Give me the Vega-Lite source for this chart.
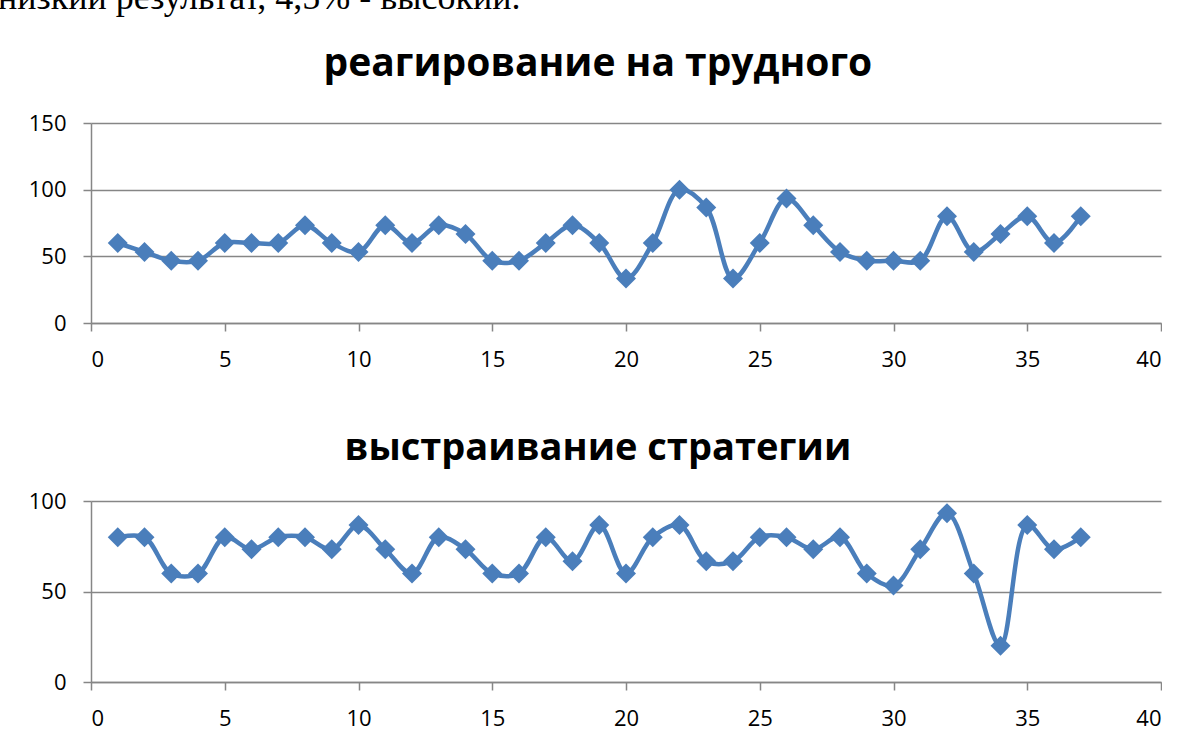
{
  "$schema": "https://vega.github.io/schema/vega-lite/v6.json",
  "background": "white",
  "padding": {"left": -2, "top": -20, "right": 0, "bottom": 10},
  "spacing": 60,
  "title": {
    "text": "низкий результат, 4,5% - высокий.",
    "anchor": "start",
    "frame": "bounds",
    "font": "Liberation Serif",
    "fontSize": 36,
    "fontWeight": "normal",
    "color": "#000000",
    "offset": 28
  },
  "config": {
    "view": {"stroke": null},
    "axis": {
      "labelFont": "Open Sans",
      "labelFontSize": 22,
      "labelColor": "#000000",
      "domainColor": "#868686",
      "tickColor": "#868686",
      "gridColor": "#868686",
      "domainWidth": 1.5,
      "tickWidth": 1.5,
      "gridWidth": 1.3,
      "tickSize": 8,
      "title": null
    },
    "title": {
      "font": "Open Sans",
      "fontSize": 38,
      "fontWeight": "bold",
      "color": "#000000",
      "anchor": "middle",
      "frame": "bounds",
      "offset": 22
    }
  },
  "datasets": {
    "react": [
      {"n": 1, "v": 60}, {"n": 2, "v": 53.3}, {"n": 3, "v": 46.7}, {"n": 4, "v": 46.7},
      {"n": 5, "v": 60}, {"n": 6, "v": 60}, {"n": 7, "v": 60}, {"n": 8, "v": 73.3},
      {"n": 9, "v": 60}, {"n": 10, "v": 53.3}, {"n": 11, "v": 73.3}, {"n": 12, "v": 60},
      {"n": 13, "v": 73.3}, {"n": 14, "v": 66.7}, {"n": 15, "v": 46.7}, {"n": 16, "v": 46.7},
      {"n": 17, "v": 60}, {"n": 18, "v": 73.3}, {"n": 19, "v": 60}, {"n": 20, "v": 33.3},
      {"n": 21, "v": 60}, {"n": 22, "v": 100}, {"n": 23, "v": 86.7}, {"n": 24, "v": 33.3},
      {"n": 25, "v": 60}, {"n": 26, "v": 93.3}, {"n": 27, "v": 73.3}, {"n": 28, "v": 53.3},
      {"n": 29, "v": 46.7}, {"n": 30, "v": 46.7}, {"n": 31, "v": 46.7}, {"n": 32, "v": 80},
      {"n": 33, "v": 53.3}, {"n": 34, "v": 66.7}, {"n": 35, "v": 80}, {"n": 36, "v": 60},
      {"n": 37, "v": 80}
    ],
    "strategy": [
      {"n": 1, "v": 80}, {"n": 2, "v": 80}, {"n": 3, "v": 60}, {"n": 4, "v": 60},
      {"n": 5, "v": 80}, {"n": 6, "v": 73.3}, {"n": 7, "v": 80}, {"n": 8, "v": 80},
      {"n": 9, "v": 73.3}, {"n": 10, "v": 86.7}, {"n": 11, "v": 73.3}, {"n": 12, "v": 60},
      {"n": 13, "v": 80}, {"n": 14, "v": 73.3}, {"n": 15, "v": 60}, {"n": 16, "v": 60},
      {"n": 17, "v": 80}, {"n": 18, "v": 66.7}, {"n": 19, "v": 86.7}, {"n": 20, "v": 60},
      {"n": 21, "v": 80}, {"n": 22, "v": 86.7}, {"n": 23, "v": 66.7}, {"n": 24, "v": 66.7},
      {"n": 25, "v": 80}, {"n": 26, "v": 80}, {"n": 27, "v": 73.3}, {"n": 28, "v": 80},
      {"n": 29, "v": 60}, {"n": 30, "v": 53.3}, {"n": 31, "v": 73.3}, {"n": 32, "v": 93.3},
      {"n": 33, "v": 60}, {"n": 34, "v": 20}, {"n": 35, "v": 86.7}, {"n": 36, "v": 73.3},
      {"n": 37, "v": 80}
    ]
  },
  "vconcat": [
    {
      "title": {"text": "реагирование на трудного", "fontSize": 39, "offset": 28, "dx": 18},
      "width": 1070,
      "height": 200,
      "data": {"name": "react"},
      "mark": {
        "type": "line",
        "interpolate": "catmull-rom",
        "color": "#4A7EBB",
        "strokeWidth": 4.5,
        "point": {"shape": "diamond", "size": 400, "filled": true, "color": "#4A7EBB", "opacity": 1}
      },
      "encoding": {
        "x": {
          "field": "n", "type": "quantitative",
          "scale": {"domain": [0, 40], "nice": false, "zero": false},
          "axis": {"values": [0, 5, 10, 15, 20, 25, 30, 35, 40], "grid": false, "labelPadding": 18, "format": "d"}
        },
        "y": {
          "field": "v", "type": "quantitative",
          "scale": {"domain": [0, 150], "nice": false},
          "axis": {"values": [0, 50, 100, 150], "grid": true, "labelPadding": 17, "minExtent": 93, "maxExtent": 93, "format": "d"}
        }
      }
    },
    {
      "title": {"text": "выстраивание стратегии", "fontSize": 38, "offset": 22, "dx": 18},
      "width": 1070,
      "height": 181,
      "data": {"name": "strategy"},
      "mark": {
        "type": "line",
        "interpolate": "catmull-rom",
        "color": "#4A7EBB",
        "strokeWidth": 4.5,
        "point": {"shape": "diamond", "size": 400, "filled": true, "color": "#4A7EBB", "opacity": 1}
      },
      "encoding": {
        "x": {
          "field": "n", "type": "quantitative",
          "scale": {"domain": [0, 40], "nice": false, "zero": false},
          "axis": {"values": [0, 5, 10, 15, 20, 25, 30, 35, 40], "grid": false, "labelPadding": 18, "format": "d"}
        },
        "y": {
          "field": "v", "type": "quantitative",
          "scale": {"domain": [0, 100], "nice": false},
          "axis": {"values": [0, 50, 100], "grid": true, "labelPadding": 17, "minExtent": 93, "maxExtent": 93, "format": "d"}
        }
      }
    }
  ]
}
